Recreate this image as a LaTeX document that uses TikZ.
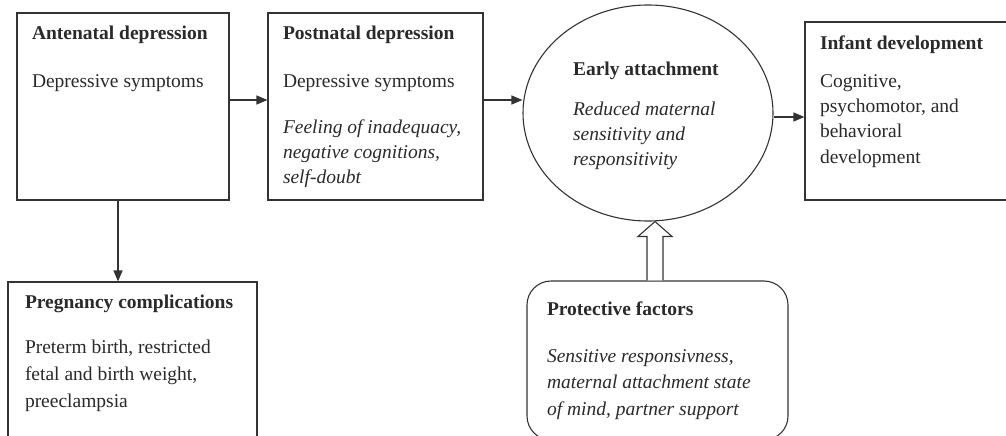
\documentclass[tikz,border=0pt]{standalone}
\usepackage{fontspec}
\setmainfont{Liberation Serif}
\usetikzlibrary{arrows.meta,calc,shapes.geometric}
\definecolor{ink}{HTML}{2A2A2A}
\definecolor{edge}{HTML}{333333}
\tikzset{
  box/.style={draw=edge,line width=1.1pt},
  txt/.style={inner sep=0pt,outer sep=0pt,anchor=base west,align=left,text=ink,font=\fontsize{19.5}{25.5}\selectfont},
  txtlow/.style={txt,font=\fontsize{19.5}{26.8}\selectfont},
  hdr/.style={txt,font=\fontsize{19.5}{25.5}\selectfont\bfseries},
  conn/.style={draw=edge,line width=1.2pt,-{Triangle[length=11pt,width=9pt]}}
}
\begin{document}
\begin{tikzpicture}[x=1pt,y=-1pt]
\clip (0,0) rectangle (1006,436);
\fill[white] (0,0) rectangle (1006,436);
% boxes
\node[box,rectangle,minimum width=212pt,minimum height=187pt,inner sep=0pt] (ante) at (123,106.5) {};
\node[box,rectangle,minimum width=215pt,minimum height=187pt,inner sep=0pt] (post) at (375.5,106.5) {};
\node[box,ellipse,minimum width=250pt,minimum height=216pt,inner sep=0pt] (att) at (648,113) {};
\node[box,rectangle,minimum width=210pt,minimum height=178pt,inner sep=0pt] (inf) at (910,111) {};
\node[box,rectangle,minimum width=249pt,minimum height=166pt,inner sep=0pt] (preg) at (132.5,365) {};
\node[box,rectangle,rounded corners=24pt,minimum width=261pt,minimum height=159pt,inner sep=0pt] (prot) at (657.5,360.5) {};
% texts (multi-line nodes: base = baseline of last line)
\node[hdr] (anteH) at (32,40) {Antenatal depression};
\node[txt] (anteB) at (32,87) {Depressive symptoms};
\node[hdr] (postH) at (283,40) {Postnatal depression};
\node[txt] (postB) at (283,87) {Depressive symptoms};
\node[txt,font=\fontsize{19.5}{25}\selectfont\itshape] (postI) at (283,183) {Feeling of inadequacy,\\negative cognitions,\\self-doubt};
\node[hdr] (attH) at (573,75) {Early attachment};
\node[txt,font=\fontsize{19.5}{25}\selectfont\itshape] (attI) at (573,165) {Reduced maternal\\sensitivity and\\responsitivity};
\node[hdr] (infH) at (820,50) {Infant development};
\node[txt,font=\fontsize{19.5}{25.3}\selectfont] (infB) at (820,163) {Cognitive,\\psychomotor, and\\behavioral\\development};
\node[hdr] (pregH) at (25,308) {Pregnancy complications};
\node[txtlow] (pregB) at (25,407) {Preterm birth, restricted\\fetal and birth weight,\\preeclampsia};
\node[hdr] (protH) at (547,315) {Protective factors};
\node[txtlow,font=\fontsize{19.5}{26.5}\selectfont\itshape] (protB) at (547,415) {Sensitive responsivness,\\maternal attachment state\\of mind, partner support};
% connectors
\draw[conn] (ante.east |- 0,100) -- (post.west |- 0,100);
\draw[conn] (post.east |- 0,100) -- (att.west |- 0,100);
\draw[conn] (att.east |- 0,117) -- (inf.west |- 0,117);
\draw[conn] (ante.south -| 118,0) -- (preg.north -| 118,0);
% hollow arrow
\coordinate (tip) at (att.south -| 655,0);
\coordinate (tail) at (prot.north -| 655,0);
\draw[draw=edge,line width=1.1pt,fill=white,line join=miter]
  ($(tail)+(-8,0)$) -- ($(tail)+(-8,-44)$) -- ($(tail)+(-17,-44)$) -- (tip)
  -- ($(tail)+(17,-44)$) -- ($(tail)+(8,-44)$) -- ($(tail)+(8,0)$);
\end{tikzpicture}
\end{document}
